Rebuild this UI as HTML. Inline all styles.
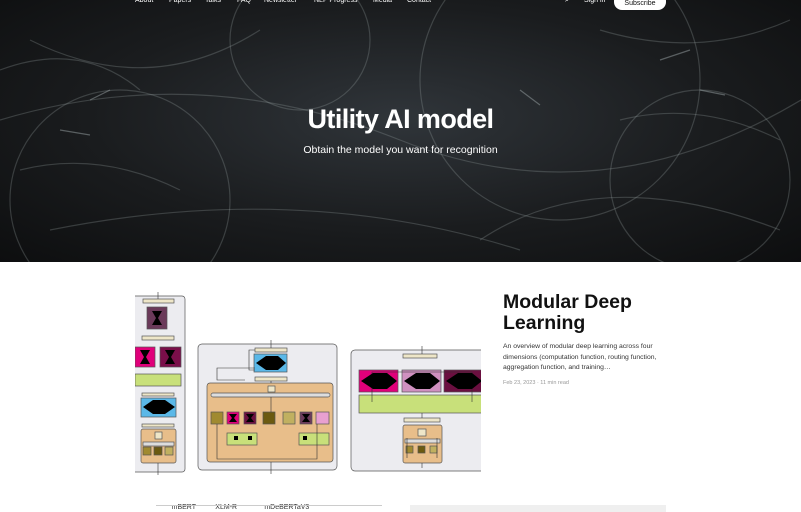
<!DOCTYPE html>
<html><head><style>
body{margin:0;width:801px;height:512px;overflow:hidden;background:#fff;font-family:"Liberation Sans",sans-serif;position:relative}
.hero{position:absolute;left:0;top:0;width:801px;height:262px;background:radial-gradient(ellipse at 50% 45%,#30353a 0%,#1a1c1e 55%,#0d0e0f 100%);overflow:hidden}
.nav{position:absolute;top:-3px;font-size:7px;color:#fff}
.t{position:absolute;color:#fff}
</style></head><body>
<div class="hero">
<svg width="801" height="262" style="position:absolute;left:0;top:0" fill="none" stroke="#9aa4a6" stroke-opacity=".28" stroke-width="1.2">
<circle cx="560" cy="80" r="140"/><circle cx="120" cy="200" r="110"/><circle cx="700" cy="180" r="90"/>
<path d="M0 120 Q200 60 400 140 T801 100"/><path d="M30 40 Q150 100 260 30"/><path d="M480 240 Q600 160 780 230"/>
<circle cx="300" cy="40" r="70"/><path d="M50 230 Q300 180 520 250"/>
<path d="M600 30 Q700 60 790 20"/><path d="M0 70 Q80 40 140 90"/><path d="M620 120 Q700 100 780 140"/><path d="M20 170 Q100 150 180 190"/>
<path d="M660 60 l30 -10 M700 90 l25 5 M60 130 l30 5 M90 100 l20 -10 M520 90 l20 15" stroke-opacity=".5"/>
</svg>
<div class="nav" style="left:135px">About</div><div class="nav" style="left:169px">Papers</div><div class="nav" style="left:205px">Talks</div><div class="nav" style="left:237px">FAQ</div><div class="nav" style="left:264px">Newsletter</div><div class="nav" style="left:314px">NLP Progress</div><div class="nav" style="left:373px">Media</div><div class="nav" style="left:407px">Contact</div>
<div class="nav" style="left:565px">⌕</div><div class="nav" style="left:584px">Sign in</div>
<div style="position:absolute;left:614px;top:-7px;width:52px;height:17px;background:#fff;border-radius:8px;font-size:7px;color:#111;text-align:center;line-height:21px">Subscribe</div>
<div class="t" style="left:0;width:801px;text-align:center;top:104px;font-size:27px;font-weight:bold;letter-spacing:-.6px">Utility AI model</div>
<div class="t" style="left:0;width:801px;text-align:center;top:144px;font-size:10.5px">Obtain the model you want for recognition</div>
</div>
<svg width="801" height="512" style="position:absolute;left:0;top:0" stroke-width=".7">
<g stroke="#555">
<rect x="130" y="296" width="55" height="176" rx="3" fill="#ececf0"/>
<rect x="143" y="299" width="31" height="4" fill="#eee6c8"/>
<rect x="147" y="307" width="20" height="22" fill="#6b3a5a"/>
<rect x="142" y="336" width="32" height="4" fill="#eee6c8"/>
<rect x="135" y="347" width="20" height="20" fill="#e0007a"/>
<rect x="160" y="347" width="21" height="20" fill="#7a0f4a"/>
<rect x="135" y="374" width="46" height="12" fill="#c8e07a"/>
<rect x="142" y="393" width="32" height="3" fill="#eee6c8"/>
<rect x="141" y="398" width="35" height="19" fill="#5bb8e8"/>
<rect x="142" y="424" width="32" height="3" fill="#eee6c8"/>
<rect x="141" y="429" width="35" height="34" rx="2" fill="#e8be8a"/>
<rect x="155" y="432" width="7" height="7" fill="#eee6c8"/>
<rect x="143" y="442" width="31" height="4" fill="#ddd"/>
<rect x="143" y="447" width="8" height="8" fill="#a08a30"/><rect x="154" y="447" width="8" height="8" fill="#6b5a10"/><rect x="165" y="447" width="8" height="8" fill="#c0b060"/>

<rect x="198" y="344" width="139" height="126" rx="4" fill="#ececf0"/>
<rect x="255" y="348" width="32" height="4" fill="#eee6c8"/>
<rect x="254" y="354" width="33" height="18" fill="#5bb8e8"/>
<rect x="255" y="377" width="32" height="4" fill="#eee6c8"/>
<rect x="207" y="383" width="126" height="79" rx="3" fill="#e8be8a"/>
<rect x="268" y="386" width="7" height="6" fill="#eee6c8"/>
<rect x="211" y="393" width="119" height="4" rx="2" fill="#ddd"/>
<rect x="211" y="412" width="12" height="12" fill="#a08a30"/>
<rect x="227" y="412" width="12" height="12" fill="#e0007a"/>
<rect x="244" y="412" width="12" height="12" fill="#6b1040"/>
<rect x="263" y="412" width="12" height="12" fill="#6b5a10"/>
<rect x="283" y="412" width="12" height="12" fill="#c0b060"/>
<rect x="300" y="412" width="12" height="12" fill="#6b3a5a"/>
<rect x="316" y="412" width="13" height="12" fill="#e8a0d0"/>
<rect x="227" y="433" width="30" height="12" fill="#c8e07a"/>
<rect x="299" y="433" width="30" height="12" fill="#c8e07a"/>

<rect x="351" y="350" width="140" height="121" rx="4" fill="#ececf0"/>
<rect x="403" y="354" width="34" height="4" fill="#eee6c8"/>
<rect x="359" y="370" width="39" height="22" fill="#e0007a"/>
<rect x="402" y="370" width="39" height="22" fill="#d090c0"/>
<rect x="444" y="370" width="40" height="22" fill="#6b0f40"/>
<rect x="359" y="395" width="125" height="18" fill="#c8e07a"/>
<rect x="404" y="418" width="36" height="4" fill="#eee6c8"/>
<rect x="403" y="425" width="39" height="38" rx="2" fill="#e8be8a"/>
<rect x="418" y="429" width="8" height="7" fill="#eee6c8"/>
<rect x="405" y="439" width="35" height="4" fill="#ddd"/>
<rect x="406" y="446" width="7" height="7" fill="#a08a30"/><rect x="418" y="446" width="7" height="7" fill="#6b5a10"/><rect x="430" y="446" width="7" height="7" fill="#c0b060"/>
</g>
<g stroke="#333" fill="none" stroke-width=".6">
<path d="M158 292v7M271 340v8M271 381v2M271 397v15M271 462v12M422 468v-5M422 346v8M422 413v5M158 475v-12"/>
<path d="M245 380h-28v-12h38"/><path d="M255 350h-6v20h6"/><path d="M372 402v-30h100v30"/>
<path d="M217 424v35h100v-35"/><path d="M407 458v-20M437 458v-20"/>
</g>
<g fill="#000">
<path d="M152 311h10l-4 7 4 7h-10l4-7z"/><path d="M140 350h10l-4 7 4 7h-10l4-7z"/><path d="M165 350h10l-4 7 4 7h-10l4-7z"/>
<path d="M143 407l10-7h12l10 7-10 7h-12z"/><path d="M256 363l10-7h12l8 7-8 7h-12z"/>
<path d="M361 381l12-8h14l10 8-10 8h-14z"/><path d="M404 381l12-8h14l10 8-10 8h-14z"/><path d="M446 381l12-8h14l10 8-10 8h-14z"/>
<path d="M229 414h8l-3 4 3 4h-8l3-4z"/><path d="M246 414h8l-3 4 3 4h-8l3-4z"/><path d="M302 414h8l-3 4 3 4h-8l3-4z"/>
<rect x="234" y="436" width="4" height="4"/><rect x="248" y="436" width="4" height="4"/><rect x="303" y="436" width="4" height="4"/>
</g>
<rect x="126" y="290" width="9" height="190" fill="#fff"/>
<rect x="481" y="340" width="12" height="140" fill="#fff"/>
</svg>
<div style="position:absolute;left:503px;top:292px;font-size:19.5px;font-weight:bold;color:#111;line-height:21px">Modular Deep<br>Learning</div>
<div style="position:absolute;left:503px;top:342px;width:170px;font-size:6.8px;color:#333;line-height:10.5px">An overview of modular deep learning across four dimensions (computation function, routing function, aggregation function, and training…</div>
<div style="position:absolute;left:503px;top:380px;font-size:5.5px;color:#999">Feb 23, 2023 · 11 min read</div>
<div style="position:absolute;left:158px;top:504px;font-size:7px;color:#333;white-space:pre">       mBERT          XLM-R              mDeBERTaV3</div>
<div style="position:absolute;left:156px;top:505px;width:226px;height:1px;background:#ccc"></div>
<div style="position:absolute;left:410px;top:505px;width:256px;height:7px;background:#efefef"></div>
</body></html>
